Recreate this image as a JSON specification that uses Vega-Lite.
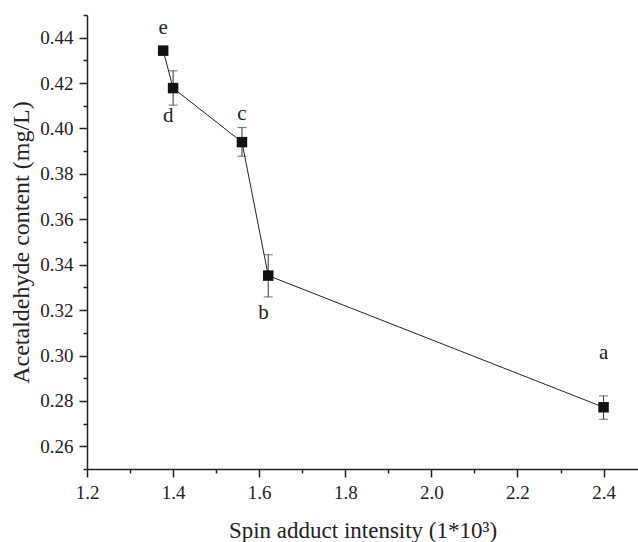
{
  "$schema": "https://vega.github.io/schema/vega-lite/v6.json",
  "autosize": "none",
  "padding": {"left": 87, "top": 15, "right": 0, "bottom": 73},
  "width": 551,
  "height": 454,
  "background": "white",
  "config": {
    "view": {"stroke": null},
    "font": "Liberation Serif",
    "text": {"font": "Liberation Serif"},
    "axis": {
      "domainColor": "#222",
      "domainWidth": 1.5,
      "tickColor": "#222",
      "tickWidth": 1.5,
      "labelColor": "#222",
      "titleColor": "#222",
      "labelFont": "Liberation Serif",
      "titleFont": "Liberation Serif",
      "labelFontSize": 19,
      "titleFontWeight": "normal",
      "grid": false
    },
    "axisX": {"titleFontSize": 23},
    "axisY": {"titleFontSize": 24}
  },
  "data": {
    "values": [
      {"x": 1.377, "y": 0.4343, "lo": 0.4343, "hi": 0.4343, "label": "e", "lx": 1.377, "ly": 0.4443},
      {"x": 1.400, "y": 0.4178, "lo": 0.4103, "hi": 0.4254, "label": "d", "lx": 1.389, "ly": 0.4054},
      {"x": 1.560, "y": 0.3940, "lo": 0.3878, "hi": 0.4004, "label": "c", "lx": 1.560, "ly": 0.4063},
      {"x": 1.621, "y": 0.3352, "lo": 0.3258, "hi": 0.3444, "label": "b", "lx": 1.610, "ly": 0.3188},
      {"x": 2.400, "y": 0.2772, "lo": 0.2719, "hi": 0.2822, "label": "a", "lx": 2.400, "ly": 0.3011}
    ]
  },
  "layer": [
    {
      "mark": {"type": "line", "color": "#222", "strokeWidth": 1},
      "encoding": {
        "x": {
          "field": "x", "type": "quantitative",
          "scale": {"domain": [1.2, 2.48], "nice": false, "zero": false},
          "axis": {
            "title": "Spin adduct intensity (1*10³)",
            "values": [1.2, 1.3, 1.4, 1.5, 1.6, 1.7, 1.8, 1.9, 2.0, 2.1, 2.2, 2.3, 2.4],
            "labelExpr": "round(datum.value*10) % 2 == 0 ? format(datum.value, '.1f') : ''",
            "tickSize": {"condition": {"test": "round(datum.value*10) % 2 == 0", "value": 8}, "value": 4},
            "labelPadding": 6, "titlePadding": 17, "labelFlush": false,
            "labelFont": "Liberation Serif", "titleFont": "Liberation Serif"
          }
        },
        "y": {
          "field": "y", "type": "quantitative",
          "scale": {"domain": [0.25, 0.45], "nice": false, "zero": false},
          "axis": {
            "title": "Acetaldehyde content (mg/L)",
            "values": [0.25, 0.26, 0.27, 0.28, 0.29, 0.30, 0.31, 0.32, 0.33, 0.34, 0.35, 0.36, 0.37, 0.38, 0.39, 0.40, 0.41, 0.42, 0.43, 0.44, 0.45],
            "labelExpr": "round(datum.value*100) % 2 == 0 ? format(datum.value, '.2f') : ''",
            "tickSize": {"condition": {"test": "round(datum.value*100) % 2 == 0", "value": 8}, "value": 4},
            "labelPadding": 6, "titlePadding": 6, "labelFlush": false,
            "labelFont": "Liberation Serif", "titleFont": "Liberation Serif"
          }
        }
      }
    },
    {
      "mark": {"type": "errorbar", "ticks": {"size": 9, "color": "#333"}, "rule": {"color": "#333"}, "thickness": 1},
      "encoding": {
        "x": {
          "field": "x", "type": "quantitative",
          "axis": {
            "title": "Spin adduct intensity (1*10³)",
            "values": [1.2, 1.3, 1.4, 1.5, 1.6, 1.7, 1.8, 1.9, 2.0, 2.1, 2.2, 2.3, 2.4],
            "labelExpr": "round(datum.value*10) % 2 == 0 ? format(datum.value, '.1f') : ''",
            "tickSize": {"condition": {"test": "round(datum.value*10) % 2 == 0", "value": 8}, "value": 4},
            "labelPadding": 6, "titlePadding": 17, "labelFlush": false,
            "labelFont": "Liberation Serif", "titleFont": "Liberation Serif"
          }
        },
        "y": {
          "field": "lo", "type": "quantitative",
          "axis": {
            "title": "Acetaldehyde content (mg/L)",
            "values": [0.25, 0.26, 0.27, 0.28, 0.29, 0.30, 0.31, 0.32, 0.33, 0.34, 0.35, 0.36, 0.37, 0.38, 0.39, 0.40, 0.41, 0.42, 0.43, 0.44, 0.45],
            "labelExpr": "round(datum.value*100) % 2 == 0 ? format(datum.value, '.2f') : ''",
            "tickSize": {"condition": {"test": "round(datum.value*100) % 2 == 0", "value": 8}, "value": 4},
            "labelPadding": 6, "titlePadding": 6, "labelFlush": false,
            "labelFont": "Liberation Serif", "titleFont": "Liberation Serif"
          }
        },
        "y2": {"field": "hi"}
      }
    },
    {
      "mark": {"type": "square", "size": 110, "filled": true, "color": "#111", "opacity": 1},
      "encoding": {
        "x": {
          "field": "x", "type": "quantitative",
          "axis": {
            "title": "Spin adduct intensity (1*10³)",
            "values": [1.2, 1.3, 1.4, 1.5, 1.6, 1.7, 1.8, 1.9, 2.0, 2.1, 2.2, 2.3, 2.4],
            "labelExpr": "round(datum.value*10) % 2 == 0 ? format(datum.value, '.1f') : ''",
            "tickSize": {"condition": {"test": "round(datum.value*10) % 2 == 0", "value": 8}, "value": 4},
            "labelPadding": 6, "titlePadding": 17, "labelFlush": false,
            "labelFont": "Liberation Serif", "titleFont": "Liberation Serif"
          }
        },
        "y": {
          "field": "y", "type": "quantitative",
          "axis": {
            "title": "Acetaldehyde content (mg/L)",
            "values": [0.25, 0.26, 0.27, 0.28, 0.29, 0.30, 0.31, 0.32, 0.33, 0.34, 0.35, 0.36, 0.37, 0.38, 0.39, 0.40, 0.41, 0.42, 0.43, 0.44, 0.45],
            "labelExpr": "round(datum.value*100) % 2 == 0 ? format(datum.value, '.2f') : ''",
            "tickSize": {"condition": {"test": "round(datum.value*100) % 2 == 0", "value": 8}, "value": 4},
            "labelPadding": 6, "titlePadding": 6, "labelFlush": false,
            "labelFont": "Liberation Serif", "titleFont": "Liberation Serif"
          }
        }
      }
    },
    {
      "mark": {"type": "text", "fontSize": 21, "color": "#222", "baseline": "middle", "align": "center", "font": "Liberation Serif"},
      "encoding": {
        "x": {
          "field": "lx", "type": "quantitative",
          "axis": {
            "title": "Spin adduct intensity (1*10³)",
            "values": [1.2, 1.3, 1.4, 1.5, 1.6, 1.7, 1.8, 1.9, 2.0, 2.1, 2.2, 2.3, 2.4],
            "labelExpr": "round(datum.value*10) % 2 == 0 ? format(datum.value, '.1f') : ''",
            "tickSize": {"condition": {"test": "round(datum.value*10) % 2 == 0", "value": 8}, "value": 4},
            "labelPadding": 6, "titlePadding": 17, "labelFlush": false,
            "labelFont": "Liberation Serif", "titleFont": "Liberation Serif"
          }
        },
        "y": {
          "field": "ly", "type": "quantitative",
          "axis": {
            "title": "Acetaldehyde content (mg/L)",
            "values": [0.25, 0.26, 0.27, 0.28, 0.29, 0.30, 0.31, 0.32, 0.33, 0.34, 0.35, 0.36, 0.37, 0.38, 0.39, 0.40, 0.41, 0.42, 0.43, 0.44, 0.45],
            "labelExpr": "round(datum.value*100) % 2 == 0 ? format(datum.value, '.2f') : ''",
            "tickSize": {"condition": {"test": "round(datum.value*100) % 2 == 0", "value": 8}, "value": 4},
            "labelPadding": 6, "titlePadding": 6, "labelFlush": false,
            "labelFont": "Liberation Serif", "titleFont": "Liberation Serif"
          }
        },
        "text": {"field": "label"}
      }
    }
  ]
}
